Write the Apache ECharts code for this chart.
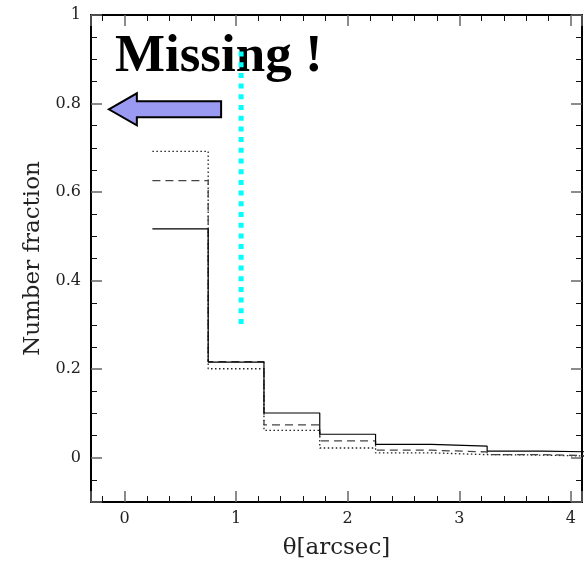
<!DOCTYPE html>
<html>
<head>
<meta charset="UTF-8">
<title>Number fraction vs theta</title>
<script src="https://cdn.jsdelivr.net/npm/echarts@6/dist/echarts.min.js"></script>
<style>
html, body { margin: 0; padding: 0; background: #fff; }
#chart { width: 586px; height: 565px; }
</style>
</head>
<body>
<div id="chart"></div>
<script>
// histogram bins (left edge, width in arcsec)
const binLeft = [0.25, 0.75, 1.25, 1.75, 2.25, 2.75, 3.25, 3.75];
const binWidth = 0.5;
// three samples: solid / dashed / dotted
const solidFrac = [0.517, 0.216, 0.101, 0.053, 0.030, 0.026, 0.015, 0.013];
const dashedFrac = [0.626, 0.217, 0.074, 0.038, 0.017, 0.013, 0.007, 0.004];
const dottedFrac = [0.692, 0.201, 0.062, 0.022, 0.011, 0.007, 0.006, 0.003];
// cyan marker at ~1 arcsec
const markerX = 1.045;
const markerY = [0.302, 0.921];
// annotation anchors (data coords)
const arrowTip = [-0.14, 0.787];
const arrowTailX = 0.866;
const noteText = 'Missing !';
const notePos = [-0.085, 0.865];

const fontFam = '"DejaVu Serif", serif';

function stepData(vals) {
  const d = binLeft.map((x, i) => [x, vals[i]]);
  d.push([binLeft[binLeft.length - 1] + binWidth, vals[vals.length - 1]]);
  return d;
}

function xAx(pos, labels) {
  return {
    type: 'value', position: pos, min: -0.3, max: 4.1,
    name: labels ? 'θ[arcsec]' : '',
    nameLocation: 'middle', nameGap: 35,
    nameTextStyle: { fontFamily: fontFam, fontSize: 23, color: '#222' },
    axisLine: { show: true, onZero: false, lineStyle: { color: '#000', width: 2 } },
    axisTick: { show: true, inside: true, length: 11, lineStyle: { color: '#666', width: 1.5 } },
    minorTick: { show: true, splitNumber: 5, length: 6, lineStyle: { color: '#111', width: 1 } },
    splitLine: { show: false },
    axisLabel: { show: labels, showMinLabel: false, showMaxLabel: false, margin: 9,
      color: '#222', fontFamily: fontFam, fontSize: 16 }
  };
}

function yAx(pos, labels) {
  return {
    type: 'value', position: pos, min: -0.1, max: 1,
    name: labels ? 'Number fraction' : '',
    nameLocation: 'middle', nameGap: 44,
    nameTextStyle: { fontFamily: fontFam, fontSize: 23, color: '#222' },
    axisLine: { show: true, onZero: false, lineStyle: { color: '#000', width: 2 } },
    axisTick: { show: true, inside: true, length: 11, lineStyle: { color: '#666', width: 1.5 } },
    minorTick: { show: true, splitNumber: 4, length: 6, lineStyle: { color: '#111', width: 1 } },
    splitLine: { show: false },
    axisLabel: { show: labels, showMinLabel: false, showMaxLabel: true, margin: 10,
      color: '#222', fontFamily: fontFam, fontSize: 16 }
  };
}

const chart = echarts.init(document.getElementById('chart'));
const option = {
  animation: false,
  backgroundColor: '#fff',
  grid: { left: 91, right: 4, top: 15, bottom: 58 },
  xAxis: [xAx('bottom', true), xAx('top', false)],
  yAxis: [yAx('left', true), yAx('right', false)],
  series: [
    {
      type: 'line', step: 'end', symbol: 'none', data: stepData(dottedFrac),
      lineStyle: { color: '#222', width: 1.3, type: [1.5, 2.5] }
    },
    {
      type: 'line', step: 'end', symbol: 'none', data: stepData(dashedFrac),
      lineStyle: { color: '#444', width: 1.3, type: [8, 5] }
    },
    {
      type: 'line', step: 'end', symbol: 'none', data: stepData(solidFrac),
      lineStyle: { color: '#000', width: 1.2 }
    },
    {
      type: 'line', symbol: 'none', z: 5,
      data: [[markerX, markerY[0]], [markerX, markerY[1]]],
      lineStyle: { color: '#00ffff', width: 5, type: [5, 5.7], cap: 'butt' }
    }
  ]
};
chart.setOption(option);

// arrow + "Missing !" note
const tip = chart.convertToPixel({ xAxisIndex: 0, yAxisIndex: 0 }, arrowTip);
const tailPx = chart.convertToPixel({ xAxisIndex: 0, yAxisIndex: 0 }, [arrowTailX, arrowTip[1]])[0];
const headLen = 28, headHalf = 16, bodyHalf = 8;
const notePx = chart.convertToPixel({ xAxisIndex: 0, yAxisIndex: 0 }, notePos);
chart.setOption({
  graphic: [
    {
      type: 'polygon', z: 1,
      shape: {
        points: [
          [tip[0], tip[1]],
          [tip[0] + headLen, tip[1] - headHalf],
          [tip[0] + headLen, tip[1] - bodyHalf],
          [tailPx, tip[1] - bodyHalf],
          [tailPx, tip[1] + bodyHalf],
          [tip[0] + headLen, tip[1] + bodyHalf],
          [tip[0] + headLen, tip[1] + headHalf]
        ]
      },
      style: { fill: '#9a9af2', stroke: '#000', lineWidth: 2 }
    },
    {
      type: 'text', z: 0,
      x: notePx[0], y: notePx[1] - 17,
      style: {
        text: noteText, fill: '#000',
        font: 'bold 53px "Liberation Serif", serif',
        verticalAlign: 'middle', align: 'left'
      }
    }
  ]
});
</script>
</body>
</html>
